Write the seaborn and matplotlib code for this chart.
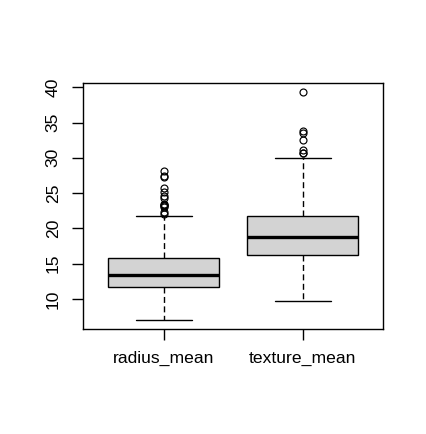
import matplotlib.pyplot as plt
import seaborn as sns

# Values
categories = ['radius_mean', 'texture_mean']
whisker_low = [6.98, 9.71]
q1 = [11.70, 16.17]
medians = [13.37, 18.84]
q3 = [15.78, 21.80]
whisker_high = [21.75, 29.97]
radius_outliers = [28.11, 27.42, 27.22, 25.73, 25.22, 24.63, 24.25,
                   23.51, 23.29, 23.27, 23.21, 23.09, 22.27, 22.01]
texture_outliers = [39.28, 33.81, 33.56, 32.47, 31.12, 30.72, 30.62]
outliers = [radius_outliers, texture_outliers]
y_ticks = [10, 15, 20, 25, 30, 35, 40]

sns.set_style('white')
plt.rcParams['font.family'] = ['Liberation Sans', 'DejaVu Sans']

fig = plt.figure(figsize=(4.26, 4.34), dpi=100)
ax = fig.add_axes([83.3 / 426, 1 - 329.3 / 434, 300 / 426, 246 / 434])

# Summary stats for matplotlib's bxp
stats = []
for i, name in enumerate(categories):
    stats.append(dict(label=name, whislo=whisker_low[i], q1=q1[i], med=medians[i],
                      q3=q3[i], whishi=whisker_high[i], fliers=outliers[i]))

ax.bxp(stats, positions=[1, 2], widths=0.8, capwidths=0.4, patch_artist=True,
       boxprops=dict(facecolor='#D3D3D3', edgecolor='black', linewidth=1.0),
       medianprops=dict(color='black', linewidth=2.4, solid_capstyle='butt'),
       whiskerprops=dict(color='black', linestyle=(0, (4.3, 2.5)), linewidth=1.0),
       capprops=dict(color='black', linewidth=1.0),
       flierprops=dict(marker='o', markerfacecolor='none', markeredgecolor='black',
                       markersize=5, markeredgewidth=0.85))

ax.set_xlim(0.42, 2.58)
ax.set_ylim(5.69, 40.57)
ax.set_yticks(y_ticks)
ax.set_yticklabels([str(t) for t in y_ticks], rotation=90, va='center')
ax.set_xticks([1, 2])
ax.set_xticklabels(categories)

for side in ['left', 'right', 'top', 'bottom']:
    ax.spines[side].set_visible(True)
    ax.spines[side].set_color('black')
    ax.spines[side].set_linewidth(1.0)

ax.tick_params(axis='both', direction='out', length=7.7, width=1.0, color='black',
               labelsize=12.6, labelcolor='black', left=True, bottom=True)
ax.tick_params(axis='y', pad=8.5)
ax.tick_params(axis='x', pad=8)
ax.grid(False)

fig.savefig('out.png', dpi=100, facecolor='white')
